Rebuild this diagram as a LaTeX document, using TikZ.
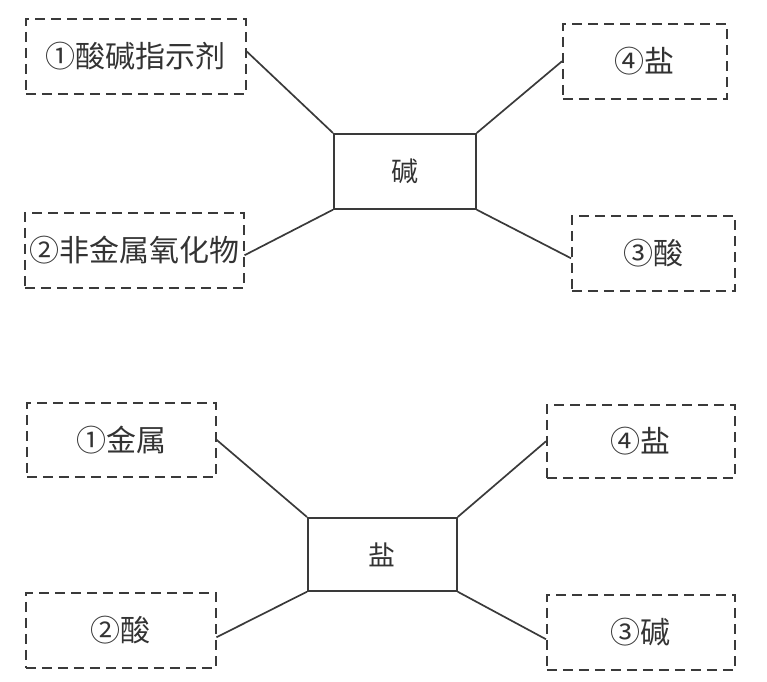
\documentclass[tikz,border=0pt]{standalone}
\usepackage{fontspec}
\setmainfont{Noto Sans CJK SC}
\definecolor{linegray}{HTML}{3A3A3A}
\definecolor{textgray}{HTML}{333333}
\tikzset{
  dbox/.style={draw=linegray, dash pattern=on 10pt off 6pt, line width=1.5pt,
    inner sep=0pt, anchor=north west, text=textgray,
    font=\fontsize{30}{30}\selectfont},
  cbox/.style={draw=linegray, line width=1.7pt, inner sep=0pt, anchor=north west,
    text=textgray, font=\fontsize{27}{27}\selectfont},
  conn/.style={draw=linegray, line width=1.7pt}
}
\begin{document}
\begin{tikzpicture}[x=1pt,y=-1pt]
\useasboundingbox (0,0) rectangle (767,681);
% ---- top diagram ----
\node[cbox, minimum width=142pt, minimum height=75pt] (c1) at (333,133) {碱};
\node[dbox, minimum width=220pt, minimum height=75pt] (a1) at (25,18) {①酸碱指示剂};
\node[dbox, minimum width=219pt, minimum height=75pt] (a2) at (24,212) {②非金属氧化物};
\node[dbox, minimum width=164pt, minimum height=75pt] (a4) at (562,23) {④盐};
\node[dbox, minimum width=163pt, minimum height=75pt] (a3) at (571,215) {③酸};
\draw[conn] ([yshift=5pt]a1.east) -- (c1.north west);
\draw[conn] ([yshift=-5pt]a2.east) -- (c1.south west);
\draw[conn] (c1.north east) -- (a4.west);
\draw[conn] (c1.south east) -- ([yshift=-5pt]a3.west);
% ---- bottom diagram ----
\node[cbox, minimum width=149pt, minimum height=73pt] (c2) at (307,517) {盐};
\node[dbox, minimum width=189pt, minimum height=74pt] (b1) at (26,402) {①金属};
\node[dbox, minimum width=190pt, minimum height=75pt] (b2) at (25,592) {②酸};
\node[dbox, minimum width=188pt, minimum height=73pt] (b4) at (546,404) {④盐};
\node[dbox, minimum width=188pt, minimum height=75pt] (b3) at (546,594) {③碱};
\draw[conn] (b1.east) -- (c2.north west);
\draw[conn] ([yshift=-7pt]b2.east) -- (c2.south west);
\draw[conn] (c2.north east) -- (b4.west);
\draw[conn] (c2.south east) -- ([yshift=-7pt]b3.west);
\end{tikzpicture}
\end{document}
